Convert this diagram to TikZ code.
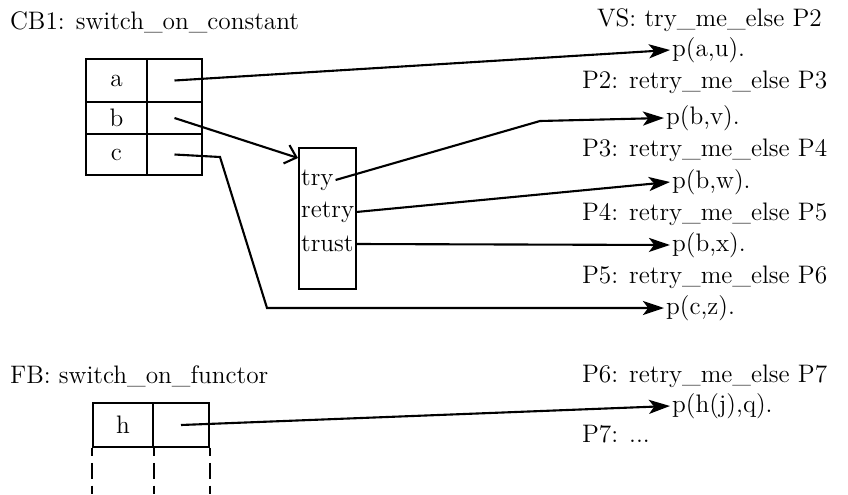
\documentclass[tikz,border=0pt]{standalone}
\usepackage{tikz}
\usetikzlibrary{arrows.meta,positioning,calc}

\begin{document}
\begin{tikzpicture}[x=0.02cm, y=-0.02cm,
    every node/.style={font=\fontsize{14.4}{17}\selectfont, inner sep=1pt},
    cell/.style={draw, line width=1pt, inner sep=0pt, minimum width=#1},
    lbl/.style={anchor=west},
    conn/.style={line width=1.2pt, -{Stealth[length=12pt,width=8pt,inset=3pt]}}]
  \useasboundingbox (0,0) rectangle (848,494);
  % CB1 table
  \node[lbl] (cbt) at (8,22) {CB1: switch\_on\_constant};
  \node[cell=1.22cm, minimum height=0.86cm] (ka) at (116.5,80.5) {a};
  \node[cell=1.1cm, minimum height=0.86cm] (pa) at (174.5,80.5) {};
  \node[cell=1.22cm, minimum height=0.64cm] (kb) at (116.5,118) {b};
  \node[cell=1.1cm, minimum height=0.64cm] (pb) at (174.5,118) {};
  \node[cell=1.22cm, minimum height=0.82cm] (kc) at (116.5,154.5) {c};
  \node[cell=1.1cm, minimum height=0.82cm] (pc) at (174.5,154.5) {};
  % try block
  \node[cell=1.14cm, minimum height=2.82cm] (tb) at (327.5,218.5) {};
  \node[lbl] (ltry) at (299,180) {try};
  \node[lbl] (lretry) at (299,212) {retry};
  \node[lbl] (ltrust) at (299,244) {trust};
  % clauses
  \node[lbl] (vs) at (595,20) {VS: try\_me\_else P2};
  \node[lbl] (pau) at (670,50) {p(a,u).};
  \node[lbl] (p2) at (580,82) {P2: retry\_me\_else P3};
  \node[lbl] (pbv) at (664,118) {p(b,v).};
  \node[lbl] (p3) at (580,150) {P3: retry\_me\_else P4};
  \node[lbl] (pbw) at (670,182) {p(b,w).};
  \node[lbl] (p4) at (580,214) {P4: retry\_me\_else P5};
  \node[lbl] (pbx) at (670,245) {p(b,x).};
  \node[lbl] (p5) at (580,277) {P5: retry\_me\_else P6};
  \node[lbl] (pcz) at (664,308) {p(c,z).};
  % FB table
  \node[lbl] (fbt) at (8,376) {FB: switch\_on\_functor};
  \node[cell=1.2cm, minimum height=0.88cm] (kh) at (123,425) {h};
  \node[cell=1.12cm, minimum height=0.88cm] (ph) at (181,425) {};
  \node[lbl] (p6) at (580,376) {P6: retry\_me\_else P7};
  \node[lbl] (phq) at (670,406) {p(h(j),q).};
  \node[lbl] (p7) at (580,434) {P7: ...};
  % bend points
  \coordinate (tbin) at (298,158);
  \coordinate (bend1) at (540,121);
  \coordinate (ck1) at (220,157);
  \coordinate (ck2) at (267,308);
  % arrows
  \draw[conn] (pa.center) -- (pau.west);
  \draw[line width=1.2pt, -{Straight Barb[length=6pt,width=11pt]}] (pb.center) -- (tbin);
  \draw[conn] (ltry.east) -- (bend1) -- (pbv.west);
  \draw[conn] (lretry.east) -- (pbw.west);
  \draw[conn] (ltrust.east) -- (pbx.west);
  \draw[conn] (pc.center) -- (ck1) -- (ck2) -- (pcz.west);
  \draw[conn] (ph.center) -- (phq.west);
  % open end of FB table
  \foreach \a in {kh.south west, kh.south east, ph.south east} {
    \draw[line width=1pt] (\a) -- ++(0,8);
    \draw[line width=1pt, dash pattern=on 9pt off 4pt] ($(\a)+(0,15)$) -- (\a |- 0,494);
  }
\end{tikzpicture}
\end{document}
